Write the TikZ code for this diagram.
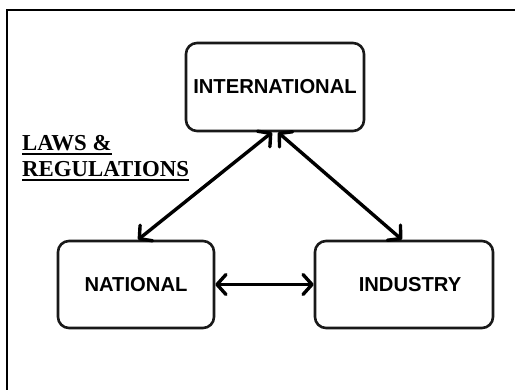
\documentclass[tikz,border=0pt]{standalone}
\usepackage{fontspec}
\setmainfont{Liberation Serif}
\setsansfont{Liberation Sans}
\usetikzlibrary{arrows.meta}
\newcommand{\ulthick}[1]{\leavevmode\vtop{\hbox{#1}\kern2.6pt\hrule height 1.6pt}}
\begin{document}
\begin{tikzpicture}[x=1pt,y=-1pt,
  box/.style={draw=black!90, line width=2.6pt, rounded corners=11pt, inner sep=0pt,
    font=\sffamily\bfseries\fontsize{20.2}{22}\selectfont},
  link/.style={line width=3.4pt, {Straight Barb[length=9pt,width=20pt,line width=3.4pt,round]}-{Straight Barb[length=9pt,width=20pt,line width=3.4pt,round]}}
]
\useasboundingbox (0,0) rectangle (515,390);
\fill[white] (0,0) rectangle (515,390);
\draw[line width=2.4pt] (515,10) -- (7,10) -- (7,390);
\node[box, minimum width=178pt, minimum height=88pt] (int) at (275,87) {INTERNATIONAL};
\node[box, minimum width=156pt, minimum height=87pt] (nat) at (136,284.5) {NATIONAL};
\node[box, minimum width=178pt, minimum height=87pt] (ind) at (404,284.5) {\hspace*{12pt}INDUSTRY};
\node[anchor=north west, align=left, inner sep=0pt, font=\bfseries\fontsize{22.8}{26}\selectfont] (laws) at (22,135)
  {\ulthick{LAWS \&}\\\ulthick{REGULATIONS}};
\draw[link] ([xshift=2pt]nat.north) -- ([xshift=-3pt]int.south);
\draw[link] ([xshift=3pt]int.south) -- ([xshift=-2pt]ind.north);
\draw[link] (nat.east) -- (ind.west);
\end{tikzpicture}
\end{document}
